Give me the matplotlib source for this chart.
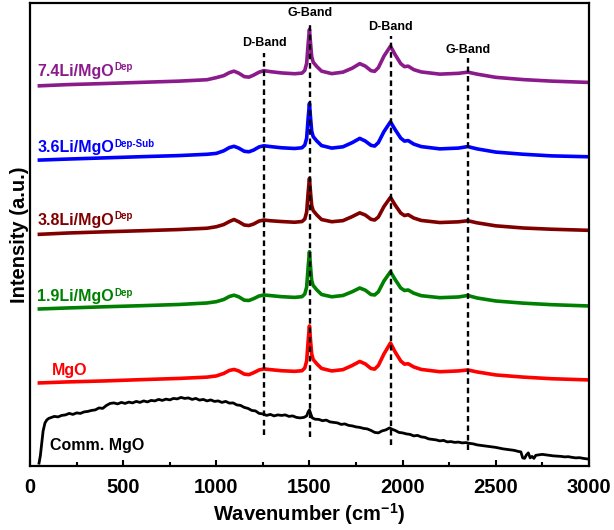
import matplotlib
matplotlib.use('Agg')
import matplotlib.pyplot as plt
from matplotlib.ticker import MultipleLocator

plt.rcParams['font.family'] = ['Liberation Sans', 'DejaVu Sans']
plt.rcParams['font.weight'] = 'bold'
plt.rcParams['mathtext.fontset'] = 'custom'
plt.rcParams['mathtext.rm'] = 'Liberation Sans:bold'
plt.rcParams['mathtext.bf'] = 'Liberation Sans:bold'

# common wavenumber grid for the offset Raman spectra (cm-1)
wavenumber = [50, 200, 400, 600, 800, 950, 1000, 1040, 1070, 1095, 1120, 1150, 1175, 1200,
              1230, 1255, 1290, 1350, 1420, 1460, 1475, 1485, 1493, 1500, 1506, 1512, 1520,
              1540, 1565, 1620, 1680, 1730, 1770, 1800, 1830, 1850, 1870, 1900, 1935, 1960,
              1990, 2010, 2030, 2060, 2100, 2200, 2300, 2350, 2400, 2500, 2650, 2800, 3000]

mgo = [83.0, 84.0, 85.0, 86.3, 87.5, 88.8, 90.0, 92.5, 95.5, 96.5, 95.0, 91.8, 91.3, 93.2,
       96.0, 97.0, 96.3, 95.2, 94.6, 95.2, 98.0, 105.0, 125.0, 140.0, 125.0, 112.0, 106.5,
       102.0, 97.5, 95.0, 96.3, 100.5, 104.5, 102.0, 97.5, 96.8, 100.5, 112.0, 123.0, 114.0,
       105.0, 101.8, 102.2, 99.0, 96.5, 94.2, 95.0, 96.0, 94.0, 91.0, 88.8, 87.2, 86.0]

li19 = [157.0, 158.0, 159.2, 160.3, 161.5, 163.0, 164.3, 166.5, 169.5, 170.8, 169.2, 165.8,
        165.5, 167.3, 170.0, 171.0, 170.4, 169.3, 168.6, 169.3, 172.0, 179.0, 199.0, 214.3,
        198.5, 185.5, 180.5, 176.0, 171.5, 169.2, 170.5, 174.3, 178.0, 175.8, 171.5, 171.0,
        174.2, 185.0, 194.3, 186.5, 178.0, 175.5, 176.0, 172.8, 170.3, 168.3, 169.0, 170.5,
        168.0, 165.0, 162.8, 161.3, 160.0]

li38 = [231.7, 233.0, 234.2, 235.3, 236.5, 237.8, 239.3, 241.5, 244.5, 246.5, 244.3, 241.0,
        240.5, 242.0, 245.0, 246.0, 245.3, 244.5, 243.8, 244.5, 247.0, 254.0, 273.5, 287.7,
        273.0, 260.5, 255.5, 251.0, 246.5, 244.3, 245.4, 249.5, 253.2, 251.0, 246.8, 246.0,
        249.0, 259.5, 268.7, 261.0, 253.0, 250.5, 251.3, 248.0, 245.6, 243.5, 244.2, 245.3,
        243.2, 240.2, 238.0, 236.8, 235.7]

li36 = [306.0, 307.0, 308.2, 309.4, 310.5, 311.8, 312.7, 315.3, 318.5, 319.8, 318.0, 314.8,
        314.3, 316.0, 319.2, 320.3, 319.5, 318.3, 317.6, 318.3, 321.0, 328.0, 348.0, 362.7,
        348.0, 335.0, 329.5, 325.0, 320.5, 318.0, 319.3, 323.5, 327.7, 325.0, 320.8, 320.0,
        323.5, 334.5, 344.3, 336.5, 328.0, 325.0, 325.5, 322.0, 319.5, 317.2, 318.0, 319.5,
        317.2, 314.0, 311.8, 310.2, 309.3]

li74 = [380.3, 381.5, 382.6, 383.8, 385.0, 386.4, 388.5, 390.5, 393.5, 395.0, 393.0, 389.5,
        389.0, 391.0, 394.0, 395.5, 394.5, 393.2, 392.4, 393.0, 395.8, 402.8, 422.5, 436.7,
        422.5, 409.5, 404.0, 399.5, 395.0, 392.5, 394.0, 398.0, 402.5, 400.0, 395.5, 394.8,
        398.5, 410.0, 420.0, 411.5, 402.5, 399.5, 400.0, 396.5, 394.2, 392.0, 392.8, 394.0,
        392.0, 388.8, 386.5, 385.0, 383.7]

# commercial MgO (noisy trace)
comm_x = [48, 55, 62, 70, 80, 90, 100, 115, 130, 150, 170, 190, 210, 230, 250, 270, 290, 310,
          330, 350, 370, 390, 410, 430, 450, 470, 490, 510, 530, 550, 570, 590, 610, 630, 650,
          670, 690, 710, 730, 750, 770, 790, 810, 830, 850, 870, 890, 910, 930, 950, 970, 990,
          1010, 1030, 1050, 1070, 1090, 1110, 1130, 1150, 1170, 1190, 1210, 1230, 1250, 1270,
          1290, 1310, 1330, 1350, 1370, 1390, 1410, 1430, 1450, 1470, 1485, 1493, 1500, 1507,
          1515, 1530, 1550, 1570, 1590, 1610, 1630, 1650, 1670, 1690, 1710, 1730, 1750, 1770,
          1790, 1810, 1830, 1850, 1870, 1890, 1910, 1930, 1945, 1960, 1980, 2000, 2020, 2040,
          2060, 2080, 2100, 2120, 2140, 2160, 2180, 2200, 2220, 2240, 2260, 2280, 2300, 2320,
          2340, 2360, 2380, 2400, 2420, 2440, 2460, 2480, 2500, 2520, 2540, 2560, 2580, 2600,
          2620, 2635, 2645, 2655, 2665, 2675, 2685, 2695, 2705, 2715, 2730, 2750, 2770, 2790,
          2810, 2830, 2850, 2870, 2890, 2910, 2930, 2950, 2970, 2990]
comm_y = [2.7, 10, 22, 35, 43, 46, 47.5, 48.5, 49.5, 49, 50.5, 51, 52.5, 51.5, 53, 52.5, 54,
          54.5, 55.5, 56, 58, 57.5, 60.5, 62.5, 63, 62, 63.5, 62.5, 63.8, 63, 64.5, 63.5, 65, 64,
          65.5, 65, 66.5, 65.5, 66.8, 66, 67.5, 67, 68.5, 67.5, 68, 66.5, 67.5, 65.8, 66.5, 65,
          66, 64.5, 65, 63.5, 64.5, 62.8, 63, 61, 60.5, 58.5, 57.5, 55.5, 55, 52.5, 52, 50.5,
          51.5, 50, 51, 50.5, 51, 49.5, 50, 48.5, 48, 48.5, 50, 54, 56, 52, 48, 46.7, 46.5, 45.2,
          45.8, 44, 43.5, 43, 41.5, 42, 40.5, 40, 39, 38.5, 37.5, 37, 35.5, 33.5, 33, 35, 36, 38,
          36.5, 35.5, 33.5, 33, 32, 31.5, 30, 30.5, 29, 28.5, 27, 26.5, 26, 25, 25.5, 24, 24.3,
          23.5, 23.8, 23, 23.3, 22.5, 22, 21, 20.5, 20, 19.5, 19, 18.5, 17.7, 17, 16.5, 16, 15.5,
          14.5, 14, 8, 7.5, 11, 13, 8, 9.5, 7.5, 10.5, 11, 11.5, 11, 10.5, 10, 9.8, 9.5, 9, 9.2,
          8.5, 8, 8.2, 7.5, 7]

series_names = ['7.4Li/MgO', '3.6Li/MgO', '3.8Li/MgO', '1.9Li/MgO', 'MgO', 'Comm. MgO']
series_sups = ['Dep', 'Dep-Sub', 'Dep', 'Dep', '', '']
series_colors = ['#8B1A8B', '#0000FF', '#800000', '#008000', '#FF0000', '#000000']

# band markers: position, label, dashed line span
band_pos = [1256, 1503, 1937, 2351]
band_names = ['D-Band', 'G-Band', 'D-Band', 'G-Band']
band_top = [413, 444, 430, 408]
band_bottom = [31, 29, 21, 16]
band_text_y = [423, 453, 439, 416]

fig = plt.figure(figsize=(6.14, 5.30), dpi=100)
ax = fig.add_axes([0.049, 0.121, 0.910, 0.873])

spectra = [li74, li36, li38, li19, mgo]
for ys, c in zip(spectra, series_colors[:5]):
    ax.plot(wavenumber, ys, color=c, lw=2.6, solid_joinstyle='round')
ax.plot(comm_x, comm_y, color='black', lw=2.0)

for x, name, top, bot, ty in zip(band_pos, band_names, band_top, band_bottom, band_text_y):
    ax.plot([x, x], [bot, top], color='black', lw=1.7, linestyle=(0, (2.4, 1.6)))
    ax.text(x, ty, name, ha='center', va='center', fontsize=9, fontweight='bold')

label_x = [38, 38, 38, 38, 118, 107]
label_y = [395, 318.5, 246, 169.5, 95, 20]
for name, sup, c, lx, ly in zip(series_names, series_sups, series_colors, label_x, label_y):
    t = ax.text(lx, ly, name, color=c, fontsize=11.5, fontweight='bold', ha='left', va='center')
    if sup:
        ax.annotate(sup, xy=(1.0, 1.0), xycoords=t, ha='left', va='top', color=c,
                    fontsize=7, fontweight='bold', xytext=(0.3, 1), textcoords='offset points')

ax.set_xlim(0, 3000)
ax.set_ylim(0, 463)
ax.xaxis.set_major_locator(MultipleLocator(500))
ax.xaxis.set_minor_locator(MultipleLocator(250))
ax.tick_params(axis='x', which='both', direction='in', width=1.5, labelsize=14.5, pad=9)
ax.tick_params(axis='x', which='major', length=4)
ax.tick_params(axis='x', which='minor', length=3)
ax.set_yticks([])
for lab in ax.get_xticklabels():
    lab.set_fontweight('bold')
for s in ax.spines.values():
    s.set_linewidth(1.6)

ax.set_xlabel(r'Wavenumber (cm$^{\mathbf{-1}}$)', fontsize=14.5, fontweight='bold', labelpad=2.5)
ax.set_ylabel('Intensity (a.u.)', fontsize=14.5, fontweight='bold', labelpad=0.5)

fig.savefig('out.png', dpi=100)
